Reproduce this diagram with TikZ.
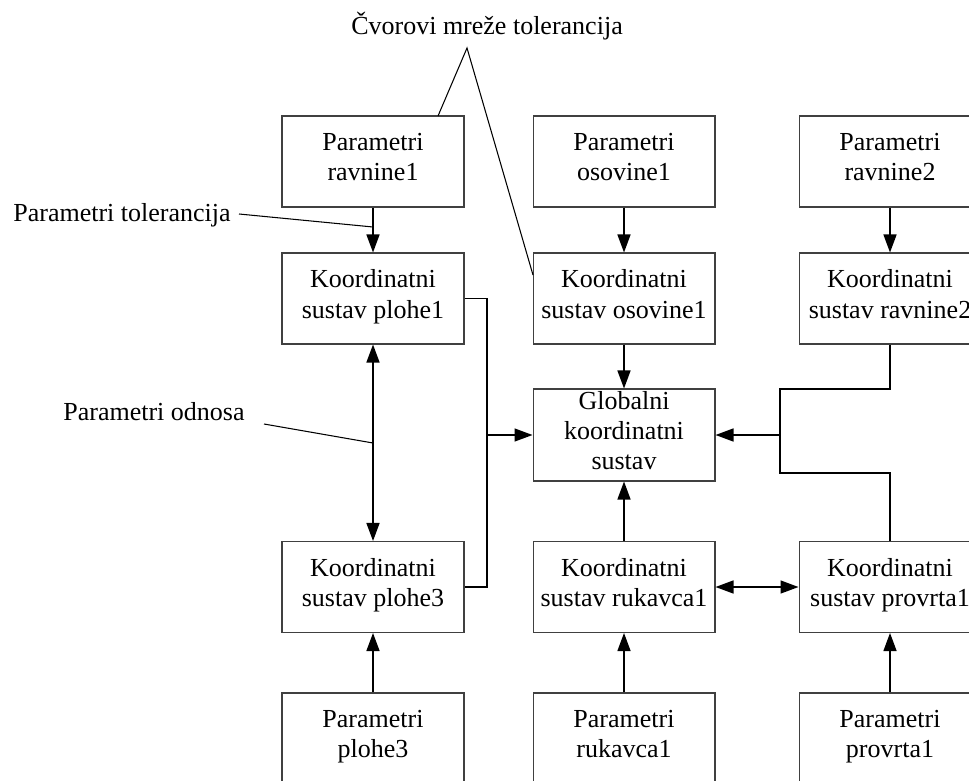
\documentclass[tikz,border=0pt]{standalone}
\usepackage{fontspec}
\setmainfont{Liberation Serif}
\usetikzlibrary{arrows.meta}

\tikzset{
    blok/.style={draw=black!75, line width=0.6pt, minimum width=3.64cm, minimum height=1.82cm,
                 align=center, inner sep=0pt, font=\fontsize{14.8}{17.2}\selectfont,
                 execute at begin node=\strut, execute at end node=\strut},
    veza/.style={line width=0.85pt},
    strelica/.style={veza, -{Triangle[length=3.6mm, width=2.6mm]}},
    dvostrelica/.style={veza, {Triangle[length=3.6mm, width=2.6mm]}-{Triangle[length=3.6mm, width=2.6mm]}},
    oznaka/.style={font=\fontsize{14.8}{17.2}\selectfont, inner sep=0pt}
}

\begin{document}
\begin{tikzpicture}[x=0.02cm, y=-0.02cm]
    \useasboundingbox (0,0) rectangle (969,780);

    % --- Parametri (gornji red) ---
    \node[blok] (pravnine1) at (373,161.5) {Parametri\\ravnine1};
    \node[blok] (posovine1) at (624,161.5) {Parametri\\osovine1};
    \node[blok] (pravnine2) at (890,161.5) {Parametri\\ravnine2};

    % --- Koordinatni sustavi ---
    \node[blok] (kplohe1)   at (373,298.5) {Koordinatni\\sustav plohe1};
    \node[blok] (kosovine1) at (624,298.5) {Koordinatni\\sustav osovine1};
    \node[blok] (kravnine2) at (890,298.5) {Koordinatni\\sustav ravnine2};

    \node[blok, minimum height=1.84cm] (global) at (624,435) {Globalni\\koordinatni\\sustav};

    \node[blok] (kplohe3)   at (373,587) {Koordinatni\\sustav plohe3};
    \node[blok] (krukavca1) at (624,587) {Koordinatni\\sustav rukavca1};
    \node[blok] (kprovrta1) at (890,587) {Koordinatni\\sustav provrta1};

    % --- Parametri (donji red) ---
    \node[blok] (pplohe3)   at (373,738.5) {Parametri\\plohe3};
    \node[blok] (prukavca1) at (624,738.5) {Parametri\\rukavca1};
    \node[blok] (pprovrta1) at (890,738.5) {Parametri\\provrta1};

    % --- Strelice ---
    \draw[strelica] (pravnine1) -- (kplohe1);
    \draw[strelica] (posovine1) -- (kosovine1);
    \draw[strelica] (pravnine2) -- (kravnine2);
    \draw[strelica] (kosovine1) -- (global);
    \draw[strelica] (krukavca1) -- (global);
    \draw[strelica] (pplohe3) -- (kplohe3);
    \draw[strelica] (prukavca1) -- (krukavca1);
    \draw[strelica] (pprovrta1) -- (kprovrta1);
    \draw[dvostrelica] (kplohe1) -- (kplohe3);
    \draw[dvostrelica] (krukavca1) -- (kprovrta1);

    % lijeva sabirnica
    \coordinate (lijevo) at (487,435);
    \draw[veza] (kplohe1.east) -- (487,298.5) -- (487,587) -- (kplohe3.east);
    \draw[strelica] (lijevo) -- (global.west);

    % desna sabirnica
    \coordinate (desno) at (780,435);
    \draw[veza] (kravnine2.south) -- (890,389) -- (780,389) -- (780,473) -- (890,473) -- (kprovrta1.north);
    \draw[strelica] (desno) -- (global.east);

    % --- Oznake ---
    \node[oznaka] (cvorovi) at (487,26) {Čvorovi mreže tolerancija};
    \coordinate (vrh) at (467,48);
    \coordinate (cv1) at (438,116);
    \coordinate (cv2) at (533,275);
    \draw[line width=0.6pt] (cv1) -- (vrh) -- (cv2);

    \node[oznaka, anchor=west] (ptol) at (13,215) {Parametri tolerancija};
    \coordinate (ptolkraj) at (373,227);
    \draw[line width=0.6pt] (239,214) -- (ptolkraj);

    \node[oznaka, anchor=west] (podn) at (63,412) {Parametri odnosa};
    \coordinate (podnkraj) at (373,443);
    \draw[line width=0.6pt] (264,424) -- (podnkraj);
\end{tikzpicture}
\end{document}
